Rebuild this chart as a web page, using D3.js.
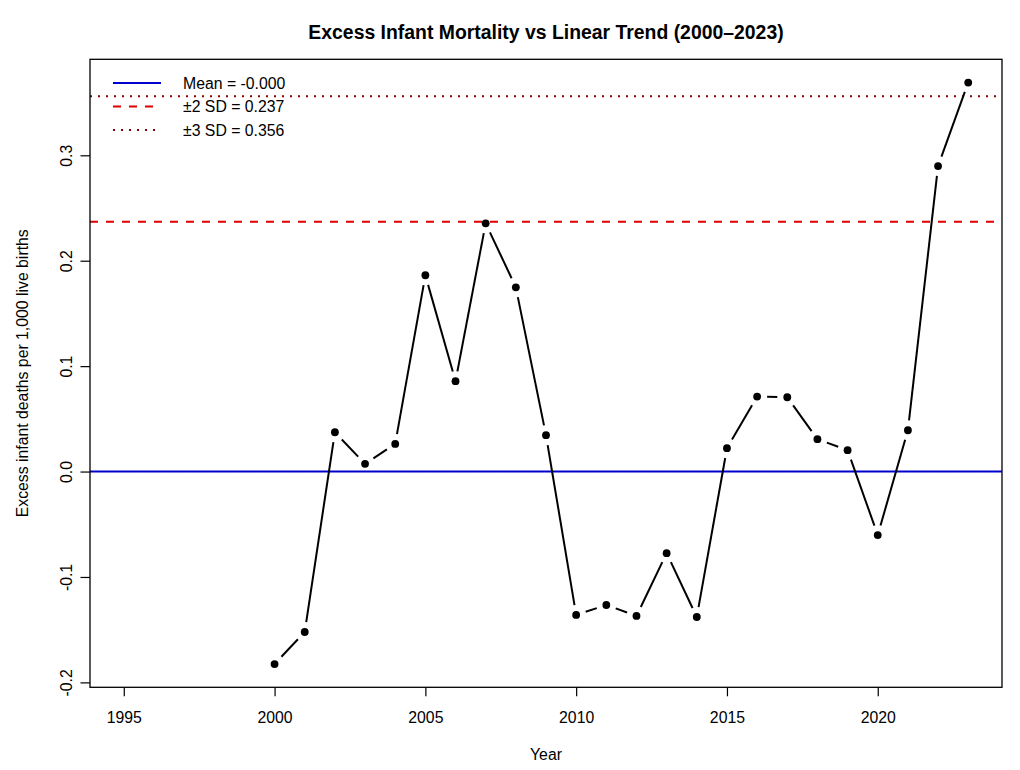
<!DOCTYPE html>
<html><head><meta charset="utf-8">
<script src="https://cdn.jsdelivr.net/npm/d3@7"></script>
<style>body{margin:0;background:#fff}svg{display:block}text{font-family:"Liberation Sans",Arial,sans-serif;fill:#000}</style>
</head><body><svg id="c" width="1020" height="770"></svg>
<script>
const years = d3.range(2000, 2024);
const excess = [-0.1826,-0.1522,0.0373,0.0073,0.0262,0.1862,0.0857,0.2355,0.1748,0.0345,
  -0.1360,-0.1266,-0.1370,-0.0774,-0.1380,0.0222,0.0711,0.0705,0.0307,0.0203,-0.0603,0.0392,0.2898,0.3690];
const meanVal = 0.0;
const sd2 = 0.237, sd3 = 0.356;
const xTicks = [1995, 2000, 2005, 2010, 2015, 2020];
const yTicks = [-0.2, -0.1, 0.0, 0.1, 0.2, 0.3];
const legendLabels = ["Mean = -0.000", "\u00b12 SD = 0.237", "\u00b13 SD = 0.356"];
const titleText = "Excess Infant Mortality vs Linear Trend (2000\u20132023)";
const xLabel = "Year", yLabel = "Excess infant deaths per 1,000 live births";

const FS = "15.8px";
const L=90, R=1002, T=59.3, B=687.3;
const svg = d3.select("#c");
const xr=[1995,2023], xp=(xr[1]-xr[0])*0.04;
const x = d3.scaleLinear().domain([xr[0]-xp, xr[1]+xp]).range([L,R]);
const ye = d3.extent(excess), yp=(ye[1]-ye[0])*0.04;
const y = d3.scaleLinear().domain([ye[0]-yp, ye[1]+yp]).range([B,T]);

svg.append("clipPath").attr("id","pc").append("rect").attr("x",L).attr("y",T).attr("width",R-L).attr("height",B-T);
const g = svg.append("g").attr("clip-path","url(#pc)");

// reference lines
[sd2,-sd2].forEach(v=>g.append("line").attr("x1",L).attr("x2",R).attr("y1",y(v)).attr("y2",y(v))
  .attr("stroke","#dd0000").attr("stroke-width",2).attr("stroke-dasharray","8,8"));
[sd3,-sd3].forEach(v=>g.append("line").attr("x1",L).attr("x2",R).attr("y1",y(v)).attr("y2",y(v))
  .attr("stroke","#8b0000").attr("stroke-width",2).attr("stroke-dasharray","2,6"));
g.append("line").attr("x1",L).attr("x2",R).attr("y1",y(meanVal)).attr("y2",y(meanVal))
  .attr("stroke","#0000cc").attr("stroke-width",2);
g.append("line").attr("x1",L).attr("x2",R).attr("y1",y(meanVal)+1).attr("y2",y(meanVal)+1)
  .attr("stroke","#8080e0").attr("stroke-width",1).attr("stroke-dasharray","1,2");

// segments with gaps (type = "b")
const gap = 10;
for(let i=0;i<years.length-1;i++){
  const x1=x(years[i]), y1=y(excess[i]), x2=x(years[i+1]), y2=y(excess[i+1]);
  const dx=x2-x1, dy=y2-y1, len=Math.hypot(dx,dy);
  if(len<=2*gap) continue;
  const ux=dx/len, uy=dy/len;
  g.append("line").attr("x1",x1+ux*gap).attr("y1",y1+uy*gap).attr("x2",x2-ux*gap).attr("y2",y2-uy*gap)
    .attr("stroke","#000").attr("stroke-width",2);
}
g.selectAll("circle.pt").data(years).join("circle").attr("class","pt")
  .attr("cx",d=>x(d)).attr("cy",(d,i)=>y(excess[i])).attr("r",3.9).attr("fill","#000");

// box
svg.append("rect").attr("x",L).attr("y",T).attr("width",R-L).attr("height",B-T).attr("fill","none").attr("stroke","#000").attr("stroke-width",1.3);

// axes
const xa = svg.append("g").attr("transform",`translate(0,${B})`)
  .call(d3.axisBottom(x).tickValues(xTicks).tickSize(9).tickPadding(0).tickFormat(d3.format("d")));
xa.select(".domain").remove();
xa.selectAll("line").attr("stroke","#000").attr("stroke-width",1.2);
xa.selectAll("text").attr("y",36).attr("dy",0).style("font-size",FS).style("font-family","Liberation Sans, Arial");

const ya = svg.append("g").attr("transform",`translate(${L},0)`)
  .call(d3.axisLeft(y).tickValues(yTicks).tickSize(9.5).tickFormat(d=>d3.format(".1f")(d).replace("\u2212","-")));
ya.select(".domain").remove();
ya.selectAll("line").attr("stroke","#000").attr("stroke-width",1.2);
ya.selectAll("text").attr("x",null).attr("dy",0).attr("text-anchor","middle")
  .attr("transform","translate(-18,0) rotate(-90)").style("font-size",FS).style("font-family","Liberation Sans, Arial");

// titles
svg.append("text").attr("x",(L+R)/2).attr("y",38.5).attr("text-anchor","middle")
  .style("font-size","19.4px").style("font-weight","bold").text(titleText);
svg.append("text").attr("x",(L+R)/2).attr("y",760).attr("text-anchor","middle").style("font-size",FS).text(xLabel);
svg.append("text").attr("transform",`translate(28,${(T+B)/2}) rotate(-90)`).attr("text-anchor","middle").style("font-size",FS).text(yLabel);

// legend
const lg = svg.append("g");
const styles=[{c:"#0000cc",d:null},{c:"#dd0000",d:"8,8"},{c:"#8b0000",d:"2,6"}];
legendLabels.forEach((t,i)=>{
  const yy = 83 + i*23.5;
  lg.append("line").attr("x1",113).attr("x2",161).attr("y1",yy).attr("y2",yy)
    .attr("stroke",styles[i].c).attr("stroke-width",2).attr("stroke-dasharray",styles[i].d);
  lg.append("text").attr("x",183).attr("y",yy+5.5).style("font-size",FS).text(t);
});
</script></body></html>
